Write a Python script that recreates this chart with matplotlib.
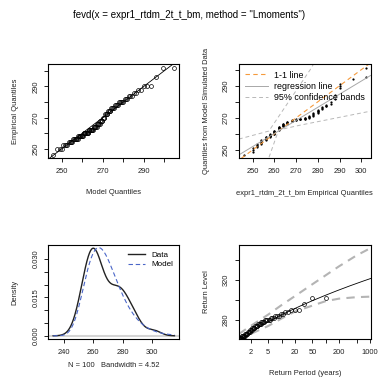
import numpy as np
import matplotlib
matplotlib.use('Agg')
import matplotlib.pyplot as plt
from matplotlib.lines import Line2D

plt.rcParams['font.family'] = ['Liberation Sans', 'DejaVu Sans']
plt.rcParams['font.size'] = 5.4

# observed block maxima (values come in steps of 2) and how often each occurs
obs_values = [246, 250, 252, 254, 256, 258, 260, 262, 264, 266, 268, 270,
              272, 274, 276, 278, 280, 282, 284, 286, 288, 290, 296, 302]
obs_counts = [1, 3, 4, 5, 7, 8, 9, 8, 6, 5, 4, 3,
              4, 4, 4, 4, 5, 3, 3, 2, 2, 3, 1, 2]

# sorted sample simulated from the fitted model (qq2 panel)
sim_quantiles = [247.0,
                 249.0, 250.0, 251.2,
                 251.8, 252.4, 253.0, 253.5,
                 254.0, 254.5, 255.0, 255.5, 256.0,
                 256.3, 256.6, 256.9, 257.2, 257.5, 257.8, 258.1,
                 258.3, 258.5, 258.7, 258.9, 259.1, 259.3, 259.5, 259.7,
                 259.9, 260.1, 260.3, 260.5, 260.8, 261.1, 261.4, 261.7, 262.0,
                 262.4, 262.8, 263.1, 263.4, 263.7, 264.0, 264.3, 264.6,
                 264.9, 265.2, 265.5, 265.8, 266.0, 266.2,
                 266.5, 266.8, 267.1, 267.4, 267.6,
                 267.8, 268.0, 268.2, 268.4,
                 268.6, 268.8, 269.0,
                 269.1, 269.2, 269.3, 269.4,
                 269.5, 269.6, 269.7, 269.8,
                 270.0, 270.3, 270.6, 271.0,
                 271.4, 271.9, 272.4, 272.9,
                 273.3, 273.7, 274.1, 274.5, 274.9,
                 275.4, 276.0, 276.6,
                 277.1, 277.6, 278.1,
                 278.7, 279.6,
                 281.5, 284.5,
                 288.6, 289.6, 290.8,
                 294.0,
                 295.4, 301.2]

# 95% confidence bands drawn on the qq2 panel
band_up_x = [243.7, 257.5, 276.5, 280.0]
band_up_y = [256.8, 261.8, 300.0, 308.0]
band_lo_x = [255.5, 262.0, 272.0, 304.3]
band_lo_y = [237.5, 262.5, 265.5, 274.2]

# GEV fitted by L-moments
gev_loc = 262.9
gev_scale = 10.7
gev_shape = -0.07
bandwidth = 4.52

# return level confidence limits
ci_periods = [1.09, 2, 5, 10, 20, 50, 100, 200, 500, 1000]
ci_lower = [259, 266, 274, 281.5, 288.5, 294.5, 299, 301.5, 303, 303.5]
ci_upper = [266, 274, 285.5, 295, 304, 316, 325, 334, 345, 352]

title = 'fevd(x = expr1_rtdm_2t_t_bm, method = "Lmoments")'


def gev_quantile(p):
    return gev_loc + gev_scale / gev_shape * ((-np.log(p)) ** (-gev_shape) - 1)


def gev_pdf(x):
    t = np.clip(1 + gev_shape * (x - gev_loc) / gev_scale, 1e-12, None)
    return t ** (-1 / gev_shape - 1) * np.exp(-t ** (-1 / gev_shape)) / gev_scale


def r_style(ax, xticks, xlabels, yticks, ylabels):
    # box, outward ticks, y labels parallel to the axis like base R
    for s in ax.spines.values():
        s.set_linewidth(0.8)
    ax.set_xticks(xticks)
    ax.set_xticklabels(xlabels)
    ax.set_yticks(yticks)
    ax.set_yticklabels(ylabels)
    ax.minorticks_off()
    ax.tick_params(direction='out', length=2.6, width=0.7, colors='#222222')
    ax.tick_params(axis='x', pad=4.5)
    ax.tick_params(axis='y', pad=3.8)
    for lab in ax.get_yticklabels():
        lab.set_rotation(90)
        lab.set_va('center')


def place_labels(ax, xlab, ylab, xoff=34, yoff=33):
    pos = ax.get_position()
    w = pos.width * 379
    h = pos.height * 378
    ax.set_xlabel(xlab, color='#222222')
    ax.set_ylabel(ylab, color='#222222')
    ax.xaxis.set_label_coords(0.5, -xoff / h)
    ax.yaxis.set_label_coords(-yoff / w, 0.5)
    ax.xaxis.label.set_va('center')
    ax.yaxis.label.set_va('center')


def expand(lo, hi):
    d = 0.04 * (hi - lo)
    return lo - d, hi + d


data = np.repeat(obs_values, obs_counts).astype(float)
n = len(data)
pp = np.arange(1, n + 1) / (n + 1)

fig = plt.figure(figsize=(3.79, 3.78), dpi=100)
fig.text(0.5, 1 - 15 / 378, title, ha='center', va='center', fontsize=7)

ax1 = fig.add_axes([48.3 / 379, 1 - 158.3 / 378, 131 / 379, 94 / 378])
ax2 = fig.add_axes([239 / 379, 1 - 158.3 / 378, 131.5 / 379, 94 / 378])
ax3 = fig.add_axes([48.3 / 379, 1 - 339.3 / 378, 131 / 379, 94.6 / 378])
ax4 = fig.add_axes([239 / 379, 1 - 339.3 / 378, 131.5 / 379, 94.6 / 378])

# --- model qq plot
model_q = gev_quantile(pp)
ax1.plot(model_q, data, 'o', mfc='none', mec='black', ms=2.8, mew=0.5)
ax1.axline((250, 250), slope=1, color='black', lw=0.6)
ax1.set_xlim(*expand(model_q.min(), model_q.max()))
ax1.set_ylim(*expand(data.min(), data.max()))
r_style(ax1, [250, 260, 270, 280, 290, 300], ['250', '', '270', '', '290', ''],
        [250, 260, 270, 280, 290, 300], ['250', '', '270', '', '290', ''])
place_labels(ax1, 'Model Quantiles', 'Empirical Quantiles')

# --- qq plot against data simulated from the model
sim = np.array(sim_quantiles)
ax2.plot(data, sim, 'o', color='black', ms=1.6, mew=0)
slope, inter = np.polyfit(data, sim, 1)
xl = expand(data.min(), data.max())
ax2.axline((250, 250), slope=1, color='#f59a3c', lw=0.8, ls=(0, (4, 3)))
ax2.axline((250, inter + slope * 250), slope=slope, color='#a8a8a8', lw=0.7)
ax2.plot(band_up_x, band_up_y, color='#b8b8b8', lw=0.7, ls=(0, (4, 3)))
ax2.plot(band_lo_x, band_lo_y, color='#b8b8b8', lw=0.7, ls=(0, (4, 3)))
ax2.set_xlim(*xl)
ax2.set_ylim(*expand(sim.min(), sim.max()))
r_style(ax2, [250, 260, 270, 280, 290, 300], ['250', '260', '270', '280', '290', '300'],
        [250, 260, 270, 280, 290, 300], ['250', '', '270', '', '290', ''])
place_labels(ax2, 'expr1_rtdm_2t_t_bm Empirical Quantiles',
             'Quantiles from Model Simulated Data', xoff=35)
handles = [Line2D([], [], color='#f59a3c', lw=0.8, ls=(0, (4, 3))),
           Line2D([], [], color='#a8a8a8', lw=0.7),
           Line2D([], [], color='#b8b8b8', lw=0.7, ls=(0, (4, 3)))]
ax2.legend(handles, ['1-1 line', 'regression line', '95% confidence bands'],
           loc='upper left', frameon=False, handlelength=2.6, handletextpad=0.6,
           labelspacing=0.25, borderaxespad=0.3, fontsize=6.4)

# --- density plot
grid = np.linspace(data.min() - 3 * bandwidth, data.max() + 3 * bandwidth, 512)
kde = np.exp(-0.5 * ((grid[:, None] - data[None, :]) / bandwidth) ** 2).sum(axis=1)
kde /= n * bandwidth * np.sqrt(2 * np.pi)
ax3.axhline(0, color='#d4d4d4', lw=1.5)
ax3.plot(grid, kde, color='#222222', lw=1.0, label='Data')
ax3.plot(grid, gev_pdf(grid), color='#4a66c8', lw=0.8, ls=(0, (4, 2.5)), label='Model')
ax3.set_xlim(*expand(grid.min(), grid.max()))
ax3.set_ylim(*expand(0, kde.max()))
r_style(ax3, [240, 260, 280, 300], ['240', '260', '280', '300'],
        [0, 0.005, 0.010, 0.015, 0.020, 0.025, 0.030],
        ['0.000', '', '', '0.015', '', '', '0.030'])
place_labels(ax3, 'N = 100   Bandwidth = 4.52', 'Density', xoff=26)
ax3.legend(loc='upper right', frameon=False, handlelength=2.2, handletextpad=0.7,
           labelspacing=0.25, borderaxespad=0.4, fontsize=5.8)

# --- return level plot
periods = np.geomspace(1.05, 1100, 300)
ax4.plot(ci_periods, ci_upper, color='#b4b4b4', lw=1.5, ls=(0, (4, 3)))
ax4.plot(ci_periods, ci_lower, color='#b4b4b4', lw=1.5, ls=(0, (4, 3)))
ax4.plot(periods, gev_quantile(1 - 1 / periods), color='black', lw=0.6)
ax4.plot(-1 / np.log(pp), data, 'o', mfc='none', mec='black', ms=2.8, mew=0.5)
ax4.set_xscale('log')
ax4.set_xlim(1.09, 1036)
ax4.set_ylim(260.6, 355.8)
r_style(ax4, [2, 5, 10, 20, 50, 100, 200, 500, 1000],
        ['2', '5', '', '20', '50', '', '200', '', '1000'],
        [280, 300, 320, 340], ['280', '', '320', ''])
place_labels(ax4, 'Return Period (years)', 'Return Level')

fig.savefig('out.png', dpi=100)
